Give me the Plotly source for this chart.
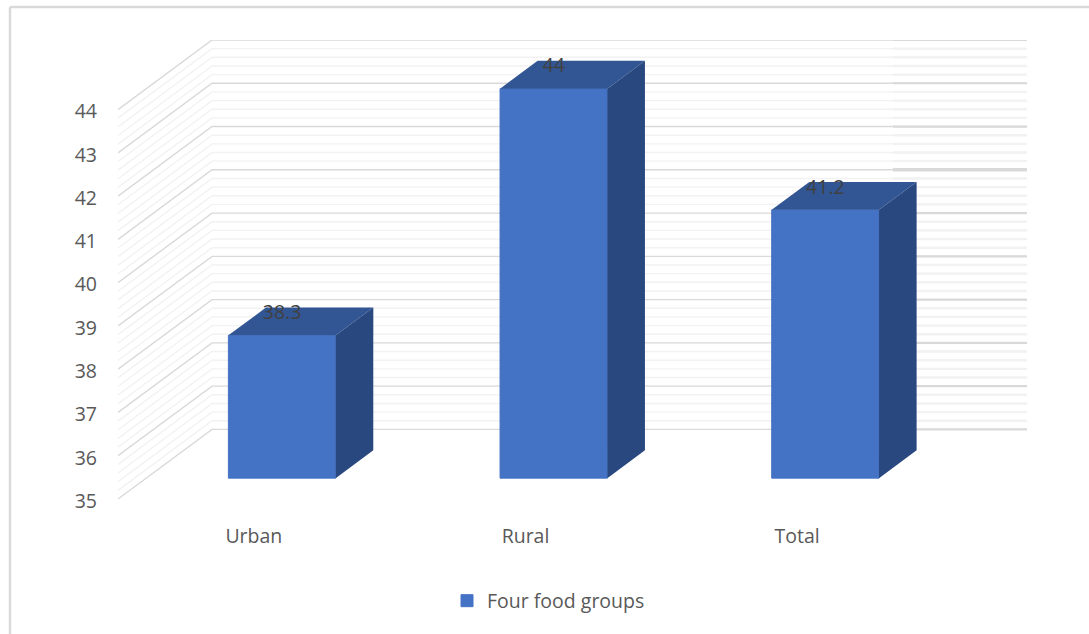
import plotly.graph_objects as go

# --- data ---
categories = ["Urban", "Rural", "Total"]
values = [38.3, 44, 41.2]
series_name = "Four food groups"
value_ticks = [35, 36, 37, 38, 39, 40, 41, 42, 43, 44]
minor_per_unit = 5

# --- oblique projection, in axis units ---
W, H = 1089, 634
L_PX, R_PX, T_PX, B_PX = 118, 1027, 40, 499
UNIT_X = (933 - 118) / 3      # px per category
UNIT_Y = (B_PX - 110) / 9     # px per value unit
DX = 94 / UNIT_X              # x shift for full depth
DY = 69.5 / UNIT_Y            # y shift for full depth
BAR_W = 0.395
D0, D1 = 0.3, 0.7             # bar depth range
FLOOR = value_ticks[0]
XR = [0, len(categories) + DX]
YR = [FLOOR, value_ticks[-1] + DY]

def proj(cat, val, d):
    return cat + d * DX, val + d * DY

MAJOR, MINOR = "#d9d9d9", "#f2f2f2"
FRONT, TOP, SIDE = "#4472C4", "#325694", "#2A4880"
TXT, LBL = "#595959", "#404040"
FONT = "Open Sans"
FS = 19.5

fig = go.Figure()

# --- back wall and side wall grid lines ---
def grid(levels, x_from=None):
    xs, ys = [], []
    for v in levels:
        if x_from is None:
            pts = [proj(0, v, 0), proj(0, v, 1), proj(len(categories), v, 1)]
        else:
            pts = [(x_from, v + DY), proj(len(categories), v, 1)]
        for p in pts:
            xs.append(p[0]); ys.append(p[1])
        xs.append(None); ys.append(None)
    return xs, ys

minor_levels = [t + k / minor_per_unit for t in value_ticks[:-1] for k in range(1, minor_per_unit)]
RIGHT_X = (893 - L_PX) / UNIT_X
for levels, col, w, frm in [
    (minor_levels, MINOR, 1.4, None),
    (value_ticks, MAJOR, 1.4, None),
    (minor_levels, MINOR, 2.4, RIGHT_X),
    (value_ticks, MAJOR, 2.2, RIGHT_X),
]:
    gx, gy = grid(levels, frm)
    fig.add_trace(go.Scatter(x=gx, y=gy, mode="lines", line=dict(color=col, width=w),
                             hoverinfo="skip", showlegend=False, xaxis="x", yaxis="y"))
gx, gy = grid([41], RIGHT_X)
fig.add_trace(go.Scatter(x=gx, y=gy, mode="lines", line=dict(color=MAJOR, width=3.6),
                         hoverinfo="skip", showlegend=False, xaxis="x", yaxis="y"))

# --- bars: front face as real bars on an overlay axis pair ---
centers = [i + 0.5 for i in range(len(categories))]
fig.add_trace(go.Bar(
    x=[proj(c, 0, D0)[0] for c in centers],
    y=[v - FLOOR for v in values],
    base=[FLOOR + D0 * DY] * len(values),
    width=BAR_W, marker=dict(color=FRONT, line=dict(width=1, color=FRONT)),
    name=series_name, xaxis="x2", yaxis="y2", showlegend=True,
))

for c, v in zip(centers, values):
    x0, x1 = c - BAR_W / 2, c + BAR_W / 2
    top = [proj(x0, v, D0), proj(x1, v, D0), proj(x1, v, D1), proj(x0, v, D1)]
    side = [proj(x1, FLOOR, D0), proj(x1, v, D0), proj(x1, v, D1), proj(x1, FLOOR, D1)]
    for pts, col in [(top, TOP), (side, SIDE)]:
        fig.add_trace(go.Scatter(
            x=[p[0] for p in pts] + [pts[0][0]], y=[p[1] for p in pts] + [pts[0][1]],
            mode="lines", fill="toself", fillcolor=col, line=dict(width=0, color=col),
            hoverinfo="skip", showlegend=False, xaxis="x2", yaxis="y2"))

# --- data labels ---
LIFT = 0.49
fig.add_trace(go.Scatter(
    x=[proj(c, 0, D0)[0] for c in centers],
    y=[proj(0, v, D0)[1] + LIFT for v in values],
    text=[f"{v:g}" for v in values], mode="text",
    textposition="middle center", textfont=dict(family=FONT, size=FS, color=LBL),
    hoverinfo="skip", showlegend=False, xaxis="x2", yaxis="y2"))

pw, ph = R_PX - L_PX, B_PX - T_PX
def px(v): return (v - L_PX) / pw
def py(v): return (B_PX - v) / ph

fig.update_layout(
    width=W, height=H, autosize=False,
    margin=dict(l=L_PX, r=W - R_PX, t=T_PX, b=H - B_PX, pad=0),
    paper_bgcolor="white", plot_bgcolor="rgba(0,0,0,0)",
    font=dict(family=FONT, color=TXT, size=FS),
    xaxis=dict(range=XR, domain=[0, 1], tickmode="array", tickvals=centers, ticktext=categories,
               showgrid=False, zeroline=False, showline=False, ticks="", ticklabelstandoff=23,
               tickfont=dict(family=FONT, size=FS, color=TXT), fixedrange=True),
    yaxis=dict(range=YR, domain=[0, 1], tickmode="array", tickvals=value_ticks,
               ticktext=[str(t) for t in value_ticks],
               showgrid=False, zeroline=False, showline=False, ticks="", ticklabelstandoff=20,
               ticklabelshift=2,
               tickfont=dict(family=FONT, size=FS, color=TXT), fixedrange=True),
    xaxis2=dict(range=XR, overlaying="x", visible=False, fixedrange=True),
    yaxis2=dict(range=YR, overlaying="y", visible=False, fixedrange=True),
    legend=dict(orientation="h", x=px(447), xanchor="left", y=py(601), yanchor="middle",
                font=dict(family=FONT, size=FS, color=TXT), bgcolor="rgba(0,0,0,0)", itemclick=False,
                itemdoubleclick=False),
    shapes=[
        dict(type="line", xref="paper", yref="paper", x0=px(10), x1=px(10), y0=py(7), y1=py(640),
             line=dict(color=MAJOR, width=2.5), layer="below"),
        dict(type="line", xref="paper", yref="paper", x0=px(10), x1=px(1095), y0=py(7), y1=py(7),
             line=dict(color=MAJOR, width=2.5), layer="below"),
    ],
)
fig.write_html("out.html", config={"displayModeBar": False},
               post_script="document.body.style.margin='0';")
